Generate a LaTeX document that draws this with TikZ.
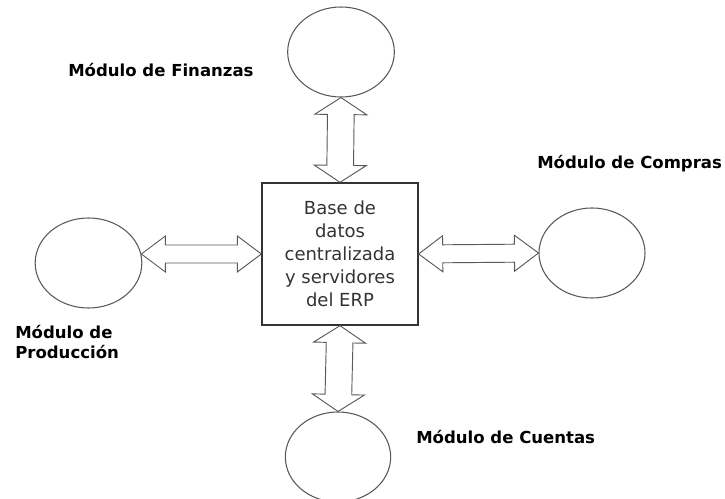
\documentclass[tikz,border=0pt]{standalone}
\usepackage{fontspec}
\setmainfont{DejaVu Sans}
\usepackage{tikz}
\usetikzlibrary{shapes.geometric , calc}

% doble flecha hueca: desde, hasta, largo punta, media punta, medio cuerpo
\newcommand{\dflecha}[5]{%
  \draw[flecha] (#1) -- ($(#1)!#3!(#2)!#4!90:(#2)$) -- ($(#1)!#3!(#2)!#5!90:(#2)$)
    -- ($(#2)!#3!(#1)!#5!-90:(#1)$) -- ($(#2)!#3!(#1)!#4!-90:(#1)$) -- (#2)
    -- ($(#2)!#3!(#1)!#4!90:(#1)$) -- ($(#2)!#3!(#1)!#5!90:(#1)$)
    -- ($(#1)!#3!(#2)!#5!-90:(#2)$) -- ($(#1)!#3!(#2)!#4!-90:(#2)$) -- cycle;}

\begin{document}
\begin{tikzpicture}[x = 0.75pt , y = -0.75pt ,
    modulo/.style = {ellipse , draw = black!65 , line width = 0.8pt , inner sep = 0pt},
    flecha/.style = {draw = black!65 , line width = 0.7pt , line join = miter},
    etiqueta/.style = {font = \fontsize{12.4}{15}\selectfont\bfseries , inner sep = 0pt}]
    \useasboundingbox (0,0) rectangle (725,499);
    % base de datos central
    \node[draw = black!80 , line width = 1pt , minimum width = 117pt , minimum height = 106.5pt ,
          align = center , text = black!80 , font = \fontsize{13.5}{17.3}\selectfont] (bd) at (340,254)
          {Base de\\datos\\centralizada\\y servidores\\del ERP};
    % modulos
    \node[modulo , minimum width = 80pt , minimum height = 67.5pt] (fin) at (341,52) {};
    \node[modulo , minimum width = 80pt , minimum height = 67.5pt] (pro) at (88.5,263) {};
    \node[modulo , minimum width = 79.5pt , minimum height = 67.5pt] (com) at (592,253) {};
    \node[modulo , minimum width = 79pt , minimum height = 67.5pt] (cue) at (338,457) {};
    \coordinate (proE) at ($(pro.east |- bd.west) + (-1,0)$); % punta sobre el modulo
    % flechas
    \dflecha{fin.south}{bd.north}{12.75pt}{19.5pt}{10pt}
    \dflecha{bd.south}{cue.north}{12.75pt}{19.5pt}{10pt}
    \dflecha{proE}{bd.west}{18pt}{13.5pt}{6.75pt}
    \dflecha{bd.east}{com.west}{18pt}{13.5pt}{6.75pt}
    % etiquetas
    \node[etiqueta , anchor = west] (tfin) at (68,70) {Módulo de Finanzas};
    \node[etiqueta , anchor = west] (tcom) at (537,164) {Módulo de Compras};
    \node[etiqueta , anchor = west , align = left] (tpro) at (15,342) {Módulo de\\Producción};
    \node[etiqueta , anchor = west] (tcue) at (416,437) {Módulo de Cuentas};
\end{tikzpicture}
\end{document}
